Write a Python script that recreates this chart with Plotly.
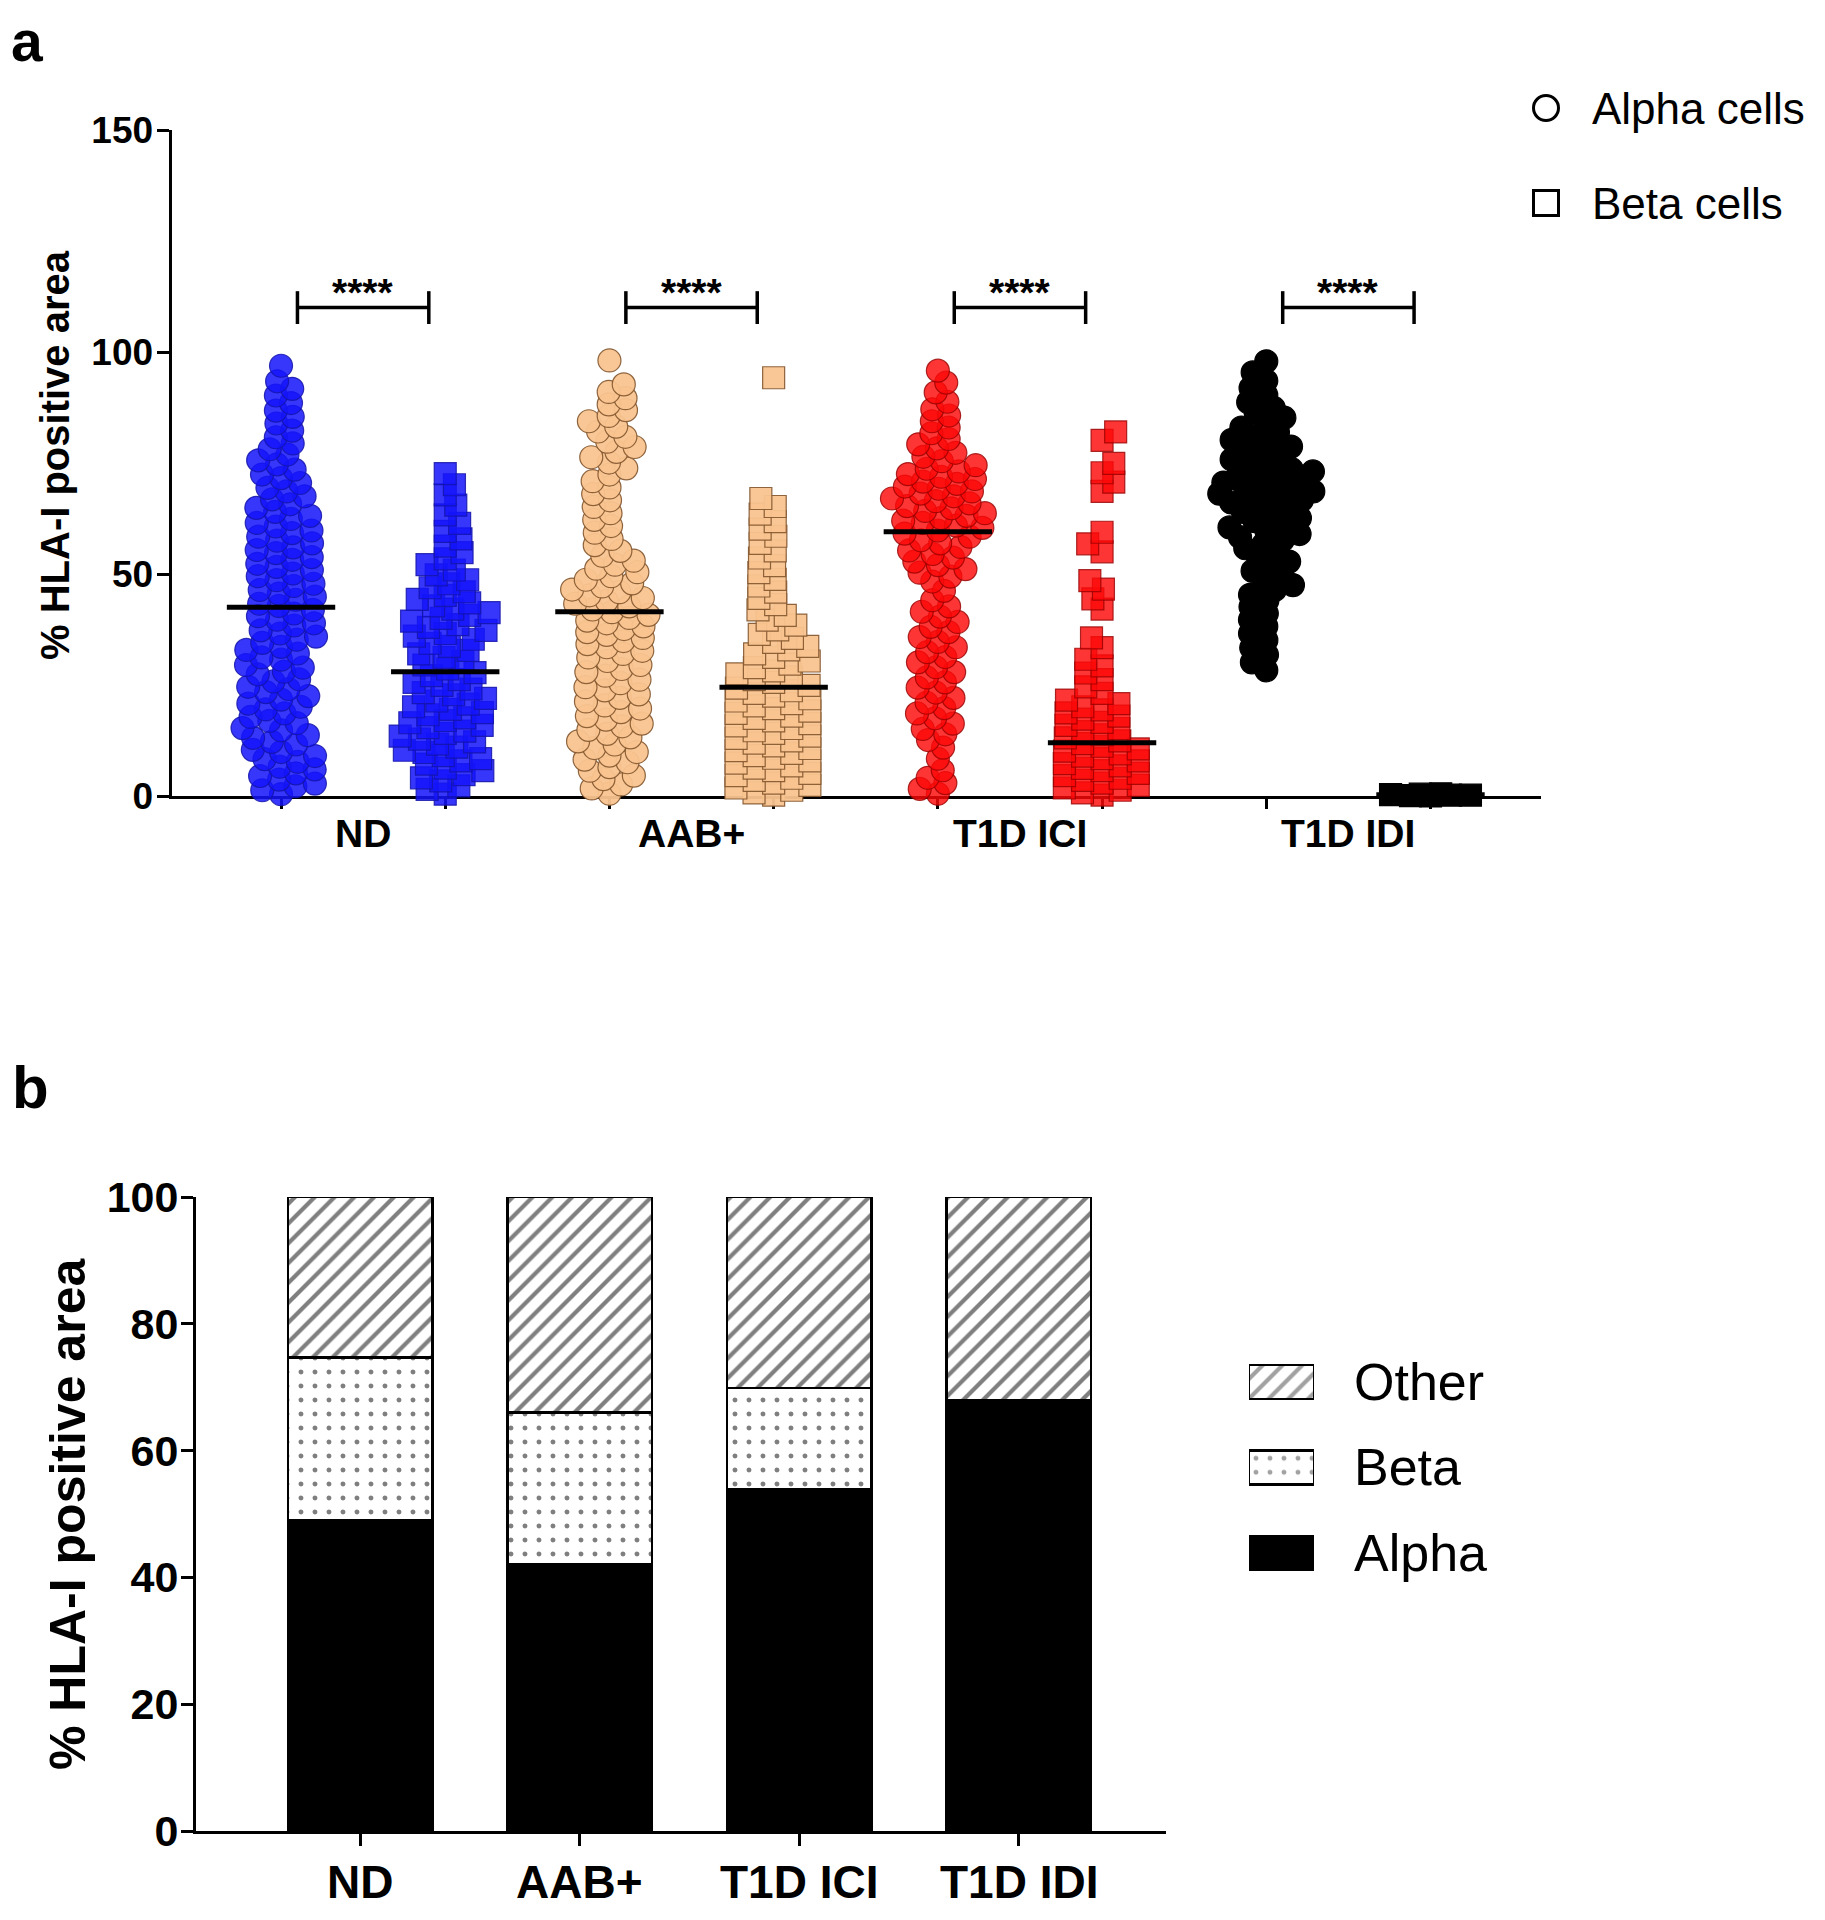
import numpy as np
import plotly.graph_objects as go

W, H = 1825, 1920
FONT = "Liberation Sans, Arial, sans-serif"

# ---------------- Panel a data ----------------
groups = ["ND", "AAB+", "T1D ICI", "T1D IDI"]
cell_types = ["Alpha cells", "Beta cells"]

nd_alpha = [0.4, 1.3, 2.2, 2.8, 3.7, 4.5, 5.1, 6.0, 6.6, 7.7, 8.3, 9.0, 9.9, 10.4, 11.6, 12.2, 13.1,
            13.7, 14.8, 15.3, 16.4, 16.9, 17.8, 18.6, 19.5, 20.1, 20.8, 21.7, 22.5, 23.4, 24.1, 24.6,
            25.8, 26.3, 27.4, 28.0, 28.9, 29.5, 30.7, 31.2, 32.1, 32.9, 33.6, 34.5, 35.2, 35.9, 36.6,
            37.3, 38.4, 38.9, 39.7, 40.5, 41.1, 41.9, 42.8, 43.3, 44.2, 44.9, 45.6, 46.4, 47.3, 47.8,
            48.6, 49.5, 50.1, 50.9, 51.6, 52.3, 53.2, 53.8, 54.7, 55.4, 56.0, 56.9, 57.5, 58.4, 59.2,
            59.8, 60.7, 61.5, 62.4, 63.1, 64.0, 64.9, 65.7, 66.8, 67.5, 68.6, 69.4, 70.5, 71.6, 72.4,
            73.5, 74.7, 75.6, 76.9, 78.1, 79.4, 80.8, 82.3, 83.9, 85.4, 86.8, 88.5, 90.2, 91.7, 93.4,
            96.9]
nd_beta = [0.4, 1.5, 2.3, 3.4, 4.1, 4.8, 5.7, 6.3, 7.2, 7.9, 8.4, 9.1, 9.8, 10.3, 11.0, 11.7, 12.2,
           12.8, 13.5, 14.1, 14.6, 15.4, 15.9, 16.5, 17.0, 17.6, 18.3, 18.8, 19.5, 20.1, 20.7, 21.4,
           22.0, 22.8, 23.3, 24.1, 24.9, 25.6, 26.2, 27.1, 27.8, 28.6, 29.5, 30.3, 31.2, 32.0, 32.8,
           33.7, 34.4, 35.3, 36.0, 36.6, 37.3, 38.0, 38.6, 39.4, 40.0, 40.7, 41.3, 42.1, 42.8, 43.5,
           44.3, 45.2, 46.0, 46.9, 47.8, 48.7, 49.8, 50.9, 52.1, 53.4, 54.8, 56.3, 57.9, 59.6, 61.4,
           63.3, 65.5, 67.8, 70.1, 72.6]
aab_alpha = [0.5, 1.7, 2.6, 3.8, 4.6, 5.7, 6.5, 7.6, 8.2, 9.1, 9.9, 10.8, 11.6, 12.3, 13.2, 14.0, 14.9,
             15.7, 16.3, 17.2, 18.0, 18.9, 19.7, 20.4, 21.3, 22.1, 22.9, 23.8, 24.5, 25.4, 26.2, 27.1,
             27.9, 28.6, 29.5, 30.4, 31.2, 32.0, 32.7, 33.5, 34.2, 34.9, 35.6, 36.3, 36.9, 37.6, 38.2,
             38.9, 39.5, 40.1, 40.8, 41.4, 42.0, 42.7, 43.3, 43.9, 44.6, 45.2, 45.9, 46.5, 47.2, 47.9,
             48.7, 49.5, 50.4, 51.2, 52.1, 53.0, 54.1, 55.2, 56.5, 57.9, 59.3, 60.8, 62.2, 63.7, 65.1,
             66.6, 68.0, 69.5, 70.9, 72.4, 73.8, 75.1, 76.3, 77.5, 78.6, 79.8, 80.9, 82.1, 83.2, 84.4,
             85.6, 86.9, 88.2, 89.6, 91.0, 92.7, 98.1]
aab_beta = [0.2, 0.7, 1.3, 1.8, 2.4, 2.9, 3.5, 4.0, 4.6, 5.1, 5.7, 6.3, 6.8, 7.4, 7.9, 8.5, 9.1, 9.6,
            10.2, 10.7, 11.3, 11.9, 12.4, 13.0, 13.5, 14.1, 14.7, 15.2, 15.8, 16.3, 16.9, 17.5, 18.0,
            18.6, 19.1, 19.7, 20.3, 20.8, 21.4, 21.9, 22.5, 23.1, 23.7, 24.3, 24.9, 25.6, 26.2, 26.8,
            27.5, 28.2, 28.9, 29.7, 30.4, 31.2, 32.0, 32.9, 33.7, 34.6, 35.5, 36.4, 37.4, 38.5, 39.6,
            40.7, 41.9, 43.1, 44.5, 45.9, 47.3, 48.8, 50.3, 51.9, 53.6, 55.2, 56.9, 58.5, 60.1, 61.8,
            63.5, 65.2, 67.0, 94.2]
ici_alpha = [0.5, 1.6, 2.9, 4.1, 5.8, 8.4, 10.9, 12.6, 13.9, 15.1, 16.3, 17.5, 18.6, 19.8, 21.0, 22.1,
             23.3, 24.4, 25.6, 26.7, 27.9, 29.0, 30.1, 31.3, 32.4, 33.5, 34.7, 35.8, 36.9, 38.1, 39.2,
             40.4, 41.5, 42.7, 44.1, 46.2, 48.3, 49.4, 50.3, 51.1, 52.0, 52.8, 53.7, 54.5, 55.3, 56.1,
             56.9, 57.6, 58.4, 59.1, 59.8, 60.4, 60.9, 61.5, 62.0, 62.6, 63.1, 63.7, 64.2, 64.8, 65.3,
             65.9, 66.4, 67.0, 67.5, 68.1, 68.6, 69.2, 69.7, 70.3, 70.8, 71.4, 71.9, 72.5, 73.1, 73.7,
             74.5, 75.4, 76.4, 77.3, 78.3, 79.2, 80.4, 81.7, 83.0, 84.4, 85.7, 87.1, 88.8, 90.9, 93.1,
             95.8]
ici_beta = [0.2, 0.7, 1.3, 1.8, 2.4, 2.9, 3.5, 4.0, 4.6, 5.1, 5.7, 6.2, 6.8, 7.3, 7.9, 8.4, 9.0, 9.5,
            10.1, 10.6, 11.2, 11.8, 12.4, 13.1, 13.8, 14.5, 15.2, 15.9, 16.6, 17.3, 18.0, 18.7, 19.4,
            20.1, 20.8, 21.6, 23.1, 24.6, 26.2, 27.7, 29.3, 30.8, 33.4, 35.6, 42.1, 44.4, 46.6, 48.5,
            55.0, 56.8, 59.4, 68.6, 70.7, 72.8, 74.9, 80.1, 82.0]
idi_alpha = [28.3, 30.1, 31.8, 33.4, 35.1, 36.6, 38.2, 39.7, 41.1, 42.6, 44.0, 45.3, 46.4, 47.5, 48.6,
             49.7, 50.7, 51.8, 52.8, 53.8, 54.8, 55.8, 56.8, 57.6, 58.3, 59.0, 59.8, 60.5, 61.2, 61.9,
             62.6, 63.3, 64.0, 64.7, 65.4, 66.1, 66.6, 67.1, 67.6, 68.1, 68.6, 69.1, 69.6, 70.1, 70.6,
             71.1, 71.6, 72.1, 72.6, 73.1, 73.6, 74.3, 75.0, 75.8, 76.5, 77.2, 78.0, 78.7, 79.5, 80.2,
             81.0, 81.9, 83.0, 84.1, 85.2, 86.3, 87.4, 88.7, 90.3, 91.9, 93.5, 95.4, 97.9]
idi_beta = [0.0, 0.2, 0.4, 0.1, 0.3, 0.5, 0.2]

alpha_values = [nd_alpha, aab_alpha, ici_alpha, idi_alpha]
beta_values = [nd_beta, aab_beta, ici_beta, idi_beta]
alpha_means = [42.5, 41.5, 59.5, 70.0]
beta_means = [28.0, 24.5, 12.0, 0.3]
significance = ["****", "****", "****", "****"]
significance_y = 110.0
yticks_a = [0, 50, 100, 150]

# ---------------- Panel b data ----------------
stack_names = ["Alpha", "Beta", "Other"]
share_alpha = [49.0, 42.1, 53.9, 68.0]
share_beta = [25.7, 23.9, 16.0, 0.0]
share_other = [25.3, 34.0, 30.1, 32.0]
yticks_b = [0, 20, 40, 60, 80, 100]

# ---------------- styles ----------------
fills = ["rgba(20,20,250,0.85)", "rgba(249,196,143,0.95)", "rgba(252,8,8,0.82)", "rgb(0,0,0)"]
edges = ["rgba(20,20,170,0.85)", "rgba(130,85,45,0.9)", "rgba(150,0,0,0.8)", "rgb(0,0,0)"]

# ---------------- geometry (pixels of the photographed page) ----------------
OFF = 8  # the page body margin shifts the figure by this many pixels


def fx(p):
    return (p - OFF) / W


def fy(p):
    return 1 - (p - OFF) / H


A_L, A_R, A_T, A_B = 171.5, 1541.0, 130.0, 796.0
A_XR = [-0.667, 7.673]
A_YR = [0, 150]
B_L, B_R, B_T, B_B = 196.0, 1166.0, 1197.0, 1831.0
B_XR = [-0.747, 3.670]
PX_X_A = (A_R - A_L) / (A_XR[1] - A_XR[0])
PX_Y_A = (A_B - A_T) / (A_YR[1] - A_YR[0])


def swarm_offsets(values, dx_px=20.0, dy_px=11.5, max_half_px=47.0):
    """Beeswarm layout: horizontal offsets (x units) so markers do not pile up."""
    vals = np.asarray(values, dtype=float)
    order = np.argsort(vals, kind="stable")
    ypx = vals * PX_Y_A
    placed = []
    offs = np.zeros(len(vals))
    for n, i in enumerate(order):
        y = ypx[i]
        ivs = []
        for xp, yp in placed:
            t = (y - yp) / dy_px
            if abs(t) < 1:
                h = dx_px * np.sqrt(1 - t * t)
                ivs.append((xp - h, xp + h))
        cands = [0.0] + [a for a, b in ivs] + [b for a, b in ivs]
        sgn = 1 if n % 2 else -1
        cands.sort(key=lambda c: (round(abs(c), 6), sgn * c))
        chosen = None
        for c in cands:
            if abs(c) > max_half_px + 1e-9:
                break
            if all(not (a + 1e-9 < c < b - 1e-9) for a, b in ivs):
                chosen = c
                break
        if chosen is None:
            grid = np.linspace(-max_half_px, max_half_px, 47)

            def score(g):
                return min(((g - xp) / dx_px) ** 2 + ((y - yp) / dy_px) ** 2 for xp, yp in placed)
            chosen = float(max(grid, key=score))
        placed.append((chosen, y))
        offs[i] = chosen
    return offs / PX_X_A


fig = go.Figure()

# ---- swarms ----
for g in range(len(groups)):
    for k, (vals, sym, size) in enumerate([(alpha_values[g], "circle", 23), (beta_values[g], "square", 22)]):
        pos = 2 * g + k
        offs = swarm_offsets(vals)
        fig.add_trace(go.Scatter(
            x=pos + offs, y=vals, mode="markers", xaxis="x", yaxis="y",
            marker=dict(symbol=sym, size=size, color=fills[g], line=dict(color=edges[g], width=1.2)),
            cliponaxis=False, showlegend=False, hoverinfo="skip"))

# ---- mean lines ----
for g in range(len(groups)):
    for k, m in enumerate([alpha_means[g], beta_means[g]]):
        pos = 2 * g + k
        fig.add_trace(go.Scatter(x=[pos - 0.33, pos + 0.33], y=[m, m], mode="lines",
                                 xaxis="x", yaxis="y", line=dict(color="black", width=5),
                                 cliponaxis=False, showlegend=False, hoverinfo="skip"))

# ---- significance brackets ----
cap = 3.7
annotations = []
for g in range(len(groups)):
    x0, x1 = 2 * g + 0.1, 2 * g + 0.9
    yb = significance_y
    fig.add_trace(go.Scatter(
        x=[x0, x0, None, x0, x1, None, x1, x1],
        y=[yb - cap, yb + cap, None, yb, yb, None, yb - cap, yb + cap],
        mode="lines", xaxis="x", yaxis="y", line=dict(color="black", width=3.5),
        cliponaxis=False, showlegend=False, hoverinfo="skip"))
    annotations.append(dict(x=(x0 + x1) / 2, y=yb, xref="x", yref="y", text=significance[g],
                            showarrow=False, yanchor="bottom", yshift=-8,
                            font=dict(family=FONT, size=39, color="black", weight="bold")))
    annotations.append(dict(x=2 * g + 0.5, y=0, xref="x", yref="y", text=groups[g],
                            showarrow=False, yanchor="middle", yshift=-38,
                            font=dict(family=FONT, size=39, color="black", weight="bold")))

# ---- legend a (glyphs in their own small axis) ----
legend_a_y = [1, 0]
fig.add_trace(go.Scatter(x=[0, 0], y=legend_a_y, mode="markers", xaxis="x3", yaxis="y3",
                         marker=dict(symbol=["circle", "square"], size=25, color="white",
                                     line=dict(color="black", width=3)),
                         showlegend=False, hoverinfo="skip", cliponaxis=False))
for lab, yp in zip(cell_types, [108, 203]):
    annotations.append(dict(x=fx(1590), y=fy(yp), xref="paper", yref="paper", text=lab,
                            showarrow=False, xanchor="left", yanchor="middle",
                            font=dict(family=FONT, size=44, color="black")))

# ---- panel b stacked bars ----
bar_w = 0.658
pat_beta = dict(shape=".", fgcolor="black", bgcolor="white", size=14, solidity=0.1)
pat_other = dict(shape="/", fgcolor="black", bgcolor="white", size=14, solidity=0.3)
xb = list(range(len(groups)))
fig.add_trace(go.Bar(x=xb, y=share_alpha, name=stack_names[0], xaxis="x2", yaxis="y2", width=bar_w,
                     marker=dict(color="black", line=dict(color="black", width=2.5)),
                     cliponaxis=False, showlegend=False, hoverinfo="skip"))
fig.add_trace(go.Bar(x=xb, y=share_beta, name=stack_names[1], xaxis="x2", yaxis="y2", width=bar_w,
                     marker=dict(color="white", pattern=pat_beta, line=dict(color="black", width=2.5)),
                     cliponaxis=False, showlegend=False, hoverinfo="skip"))
fig.add_trace(go.Bar(x=xb, y=share_other, name=stack_names[2], xaxis="x2", yaxis="y2", width=bar_w,
                     marker=dict(color="white", pattern=pat_other, line=dict(color="black", width=2.5)),
                     cliponaxis=False, showlegend=False, hoverinfo="skip"))
for g in range(len(groups)):
    annotations.append(dict(x=g, y=0, xref="x2", yref="y2", text=groups[g], showarrow=False,
                            yanchor="middle", yshift=-51,
                            font=dict(family=FONT, size=46, color="black", weight="bold")))

# ---- legend b (swatches in their own small axis) ----
legend_b_y = [0, 1, 2]
fig.add_trace(go.Bar(x=[1, 1, 1], y=legend_b_y, orientation="h", xaxis="x4", yaxis="y4", width=0.4,
                     marker=dict(color=["black", "white", "white"],
                                 pattern=dict(shape=["", ".", "/"], fgcolor="black", bgcolor="white",
                                              size=[14, 14, 14], solidity=[0.2, 0.1, 0.3]),
                                 line=dict(color="black", width=2.5)),
                     showlegend=False, hoverinfo="skip", cliponaxis=False))
for lab, yp in zip(stack_names, [1553, 1467, 1382]):
    annotations.append(dict(x=fx(1352), y=fy(yp), xref="paper", yref="paper", text=lab,
                            showarrow=False, xanchor="left", yanchor="middle",
                            font=dict(family=FONT, size=52, color="black")))

# ---- titles and panel letters ----
ytitle = "% HLA-I positive area"
annotations.append(dict(x=fx(55), y=fy(455), xref="paper", yref="paper", text=ytitle, textangle=-90,
                        showarrow=False, xanchor="center", yanchor="middle",
                        font=dict(family=FONT, size=40, color="black", weight="bold")))
annotations.append(dict(x=fx(68), y=fy(1514), xref="paper", yref="paper", text=ytitle, textangle=-90,
                        showarrow=False, xanchor="center", yanchor="middle",
                        font=dict(family=FONT, size=50, color="black", weight="bold")))
annotations.append(dict(x=fx(10), y=1.0, xref="paper", yref="paper", text="a", showarrow=False,
                        xanchor="left", yanchor="top", borderpad=0,
                        font=dict(family=FONT, size=57, color="black", weight="bold")))
annotations.append(dict(x=fx(10), y=fy(1087), xref="paper", yref="paper", text="b", showarrow=False,
                        xanchor="left", yanchor="middle",
                        font=dict(family=FONT, size=60, color="black", weight="bold")))

axis_common = dict(showgrid=False, zeroline=False, showline=True, linecolor="black", linewidth=3,
                   ticks="outside", tickcolor="black", tickwidth=3, fixedrange=True)

fig.update_layout(
    width=W, height=H, autosize=False,
    margin=dict(l=0, r=0, t=0, b=0, pad=0, autoexpand=False),
    paper_bgcolor="white", plot_bgcolor="rgba(0,0,0,0)",
    barmode="stack", showlegend=False,
    font=dict(family=FONT, color="black"),
    xaxis=dict(domain=[fx(A_L), fx(A_R)], range=A_XR, anchor="y", tickvals=list(range(8)),
               ticktext=[""] * 8, ticklen=10, layer="below traces", **axis_common),
    yaxis=dict(domain=[fy(A_B), fy(A_T)], range=A_YR, anchor="x", tickvals=yticks_a, ticklen=12,
               tickfont=dict(family=FONT, size=37, color="black", weight="bold"),
               ticklabelstandoff=-4, layer="below traces", **axis_common),
    xaxis2=dict(domain=[fx(B_L), fx(B_R)], range=B_XR, anchor="y2", tickvals=xb,
                ticktext=[""] * len(xb), ticklen=12, **axis_common),
    yaxis2=dict(domain=[fy(B_B), fy(B_T)], range=[0, 100], anchor="x2", tickvals=yticks_b, ticklen=12,
                tickfont=dict(family=FONT, size=43, color="black", weight="bold"),
                ticklabelstandoff=-6, **axis_common),
    xaxis3=dict(domain=[fx(1526), fx(1566)], range=[-1, 1], anchor="y3", visible=False, fixedrange=True),
    yaxis3=dict(domain=[fy(250.5), fy(60.5)], range=[-0.5, 1.5], anchor="x3", visible=False, fixedrange=True),
    xaxis4=dict(domain=[fx(1249), fx(1314)], range=[0, 1], anchor="y4", visible=False, fixedrange=True),
    yaxis4=dict(domain=[fy(1595.75), fy(1339.25)], range=[-0.5, 2.5], anchor="x4", visible=False,
                fixedrange=True),
    annotations=annotations,
)

fig.write_html("out.html")
